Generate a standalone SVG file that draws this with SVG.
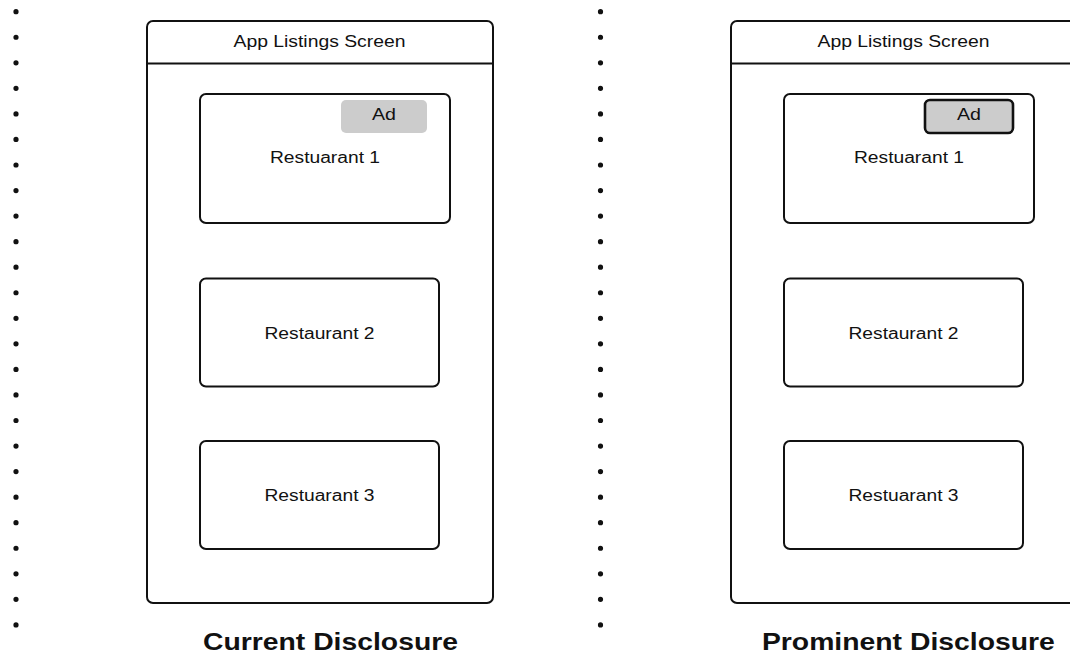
<svg xmlns="http://www.w3.org/2000/svg" width="1070" height="658" viewBox="0 0 1070 658">
<defs>
<style>
.frame{fill:#fff;stroke:#111;stroke-width:2}
.card{fill:#fff;stroke:#111;stroke-width:2}
.adp{fill:#cccccc;stroke:none}
.adq{fill:#cccccc;stroke:#111;stroke-width:2.6}
.lbl{font-family:"Liberation Sans",Arial,sans-serif;font-size:16px;fill:#111;text-anchor:middle}
.ttl{font-family:"Liberation Sans",Arial,sans-serif;font-size:23.6px;font-weight:bold;fill:#111;text-anchor:middle}
.dots{stroke:#111;stroke-width:5.2;stroke-linecap:round;stroke-dasharray:0 25.55;fill:none}
</style>
</defs>
<rect width="1070" height="658" fill="#fff"/>
<g id="divider-left">
<line class="dots" x1="16" y1="11.7" x2="16" y2="630"/>
</g>
<g id="divider-middle">
<line class="dots" x1="600.5" y1="11.7" x2="600.5" y2="630"/>
</g>
<g id="screen-current">
<rect class="frame" x="147" y="21" width="346" height="582" rx="6"/>
<line x1="147" y1="63.5" x2="493" y2="63.5" stroke="#111" stroke-width="2"/>
<text class="lbl" x="319.5" y="46.5" textLength="172" lengthAdjust="spacingAndGlyphs">App Listings Screen</text>
</g>
<g id="current-r1">
<rect class="card" x="200" y="94" width="250" height="129" rx="6"/>
<text class="lbl" x="325" y="162.5" textLength="110" lengthAdjust="spacingAndGlyphs">Restuarant 1</text>
</g>
<g id="current-ad">
<rect class="adp" x="341" y="100" width="86" height="33" rx="5"/>
<text class="lbl" x="384" y="120" textLength="24" lengthAdjust="spacingAndGlyphs">Ad</text>
</g>
<g id="current-r2">
<rect class="card" x="200" y="278.5" width="239" height="108" rx="6"/>
<text class="lbl" x="319.5" y="338.5" textLength="110" lengthAdjust="spacingAndGlyphs">Restaurant 2</text>
</g>
<g id="current-r3">
<rect class="card" x="200" y="441" width="239" height="108" rx="6"/>
<text class="lbl" x="319.5" y="500.5" textLength="110" lengthAdjust="spacingAndGlyphs">Restuarant 3</text>
</g>
<g id="title-current">
<text class="ttl" x="330.5" y="650" textLength="255" lengthAdjust="spacingAndGlyphs">Current Disclosure</text>
</g>
<g id="screen-prominent">
<rect class="frame" x="731" y="21" width="346" height="582" rx="6"/>
<line x1="731" y1="63.5" x2="1077" y2="63.5" stroke="#111" stroke-width="2"/>
<text class="lbl" x="903.5" y="46.5" textLength="172" lengthAdjust="spacingAndGlyphs">App Listings Screen</text>
</g>
<g id="prominent-r1">
<rect class="card" x="784" y="94" width="250" height="129" rx="6"/>
<text class="lbl" x="909" y="162.5" textLength="110" lengthAdjust="spacingAndGlyphs">Restuarant 1</text>
</g>
<g id="prominent-ad">
<rect class="adq" x="925" y="100" width="88" height="33" rx="5"/>
<text class="lbl" x="969" y="120" textLength="24" lengthAdjust="spacingAndGlyphs">Ad</text>
</g>
<g id="prominent-r2">
<rect class="card" x="784" y="278.5" width="239" height="108" rx="6"/>
<text class="lbl" x="903.5" y="338.5" textLength="110" lengthAdjust="spacingAndGlyphs">Restaurant 2</text>
</g>
<g id="prominent-r3">
<rect class="card" x="784" y="441" width="239" height="108" rx="6"/>
<text class="lbl" x="903.5" y="500.5" textLength="110" lengthAdjust="spacingAndGlyphs">Restuarant 3</text>
</g>
<g id="title-prominent">
<text class="ttl" x="908.4" y="650" textLength="293" lengthAdjust="spacingAndGlyphs">Prominent Disclosure</text>
</g>
<g id="connectors"></g>
</svg>
